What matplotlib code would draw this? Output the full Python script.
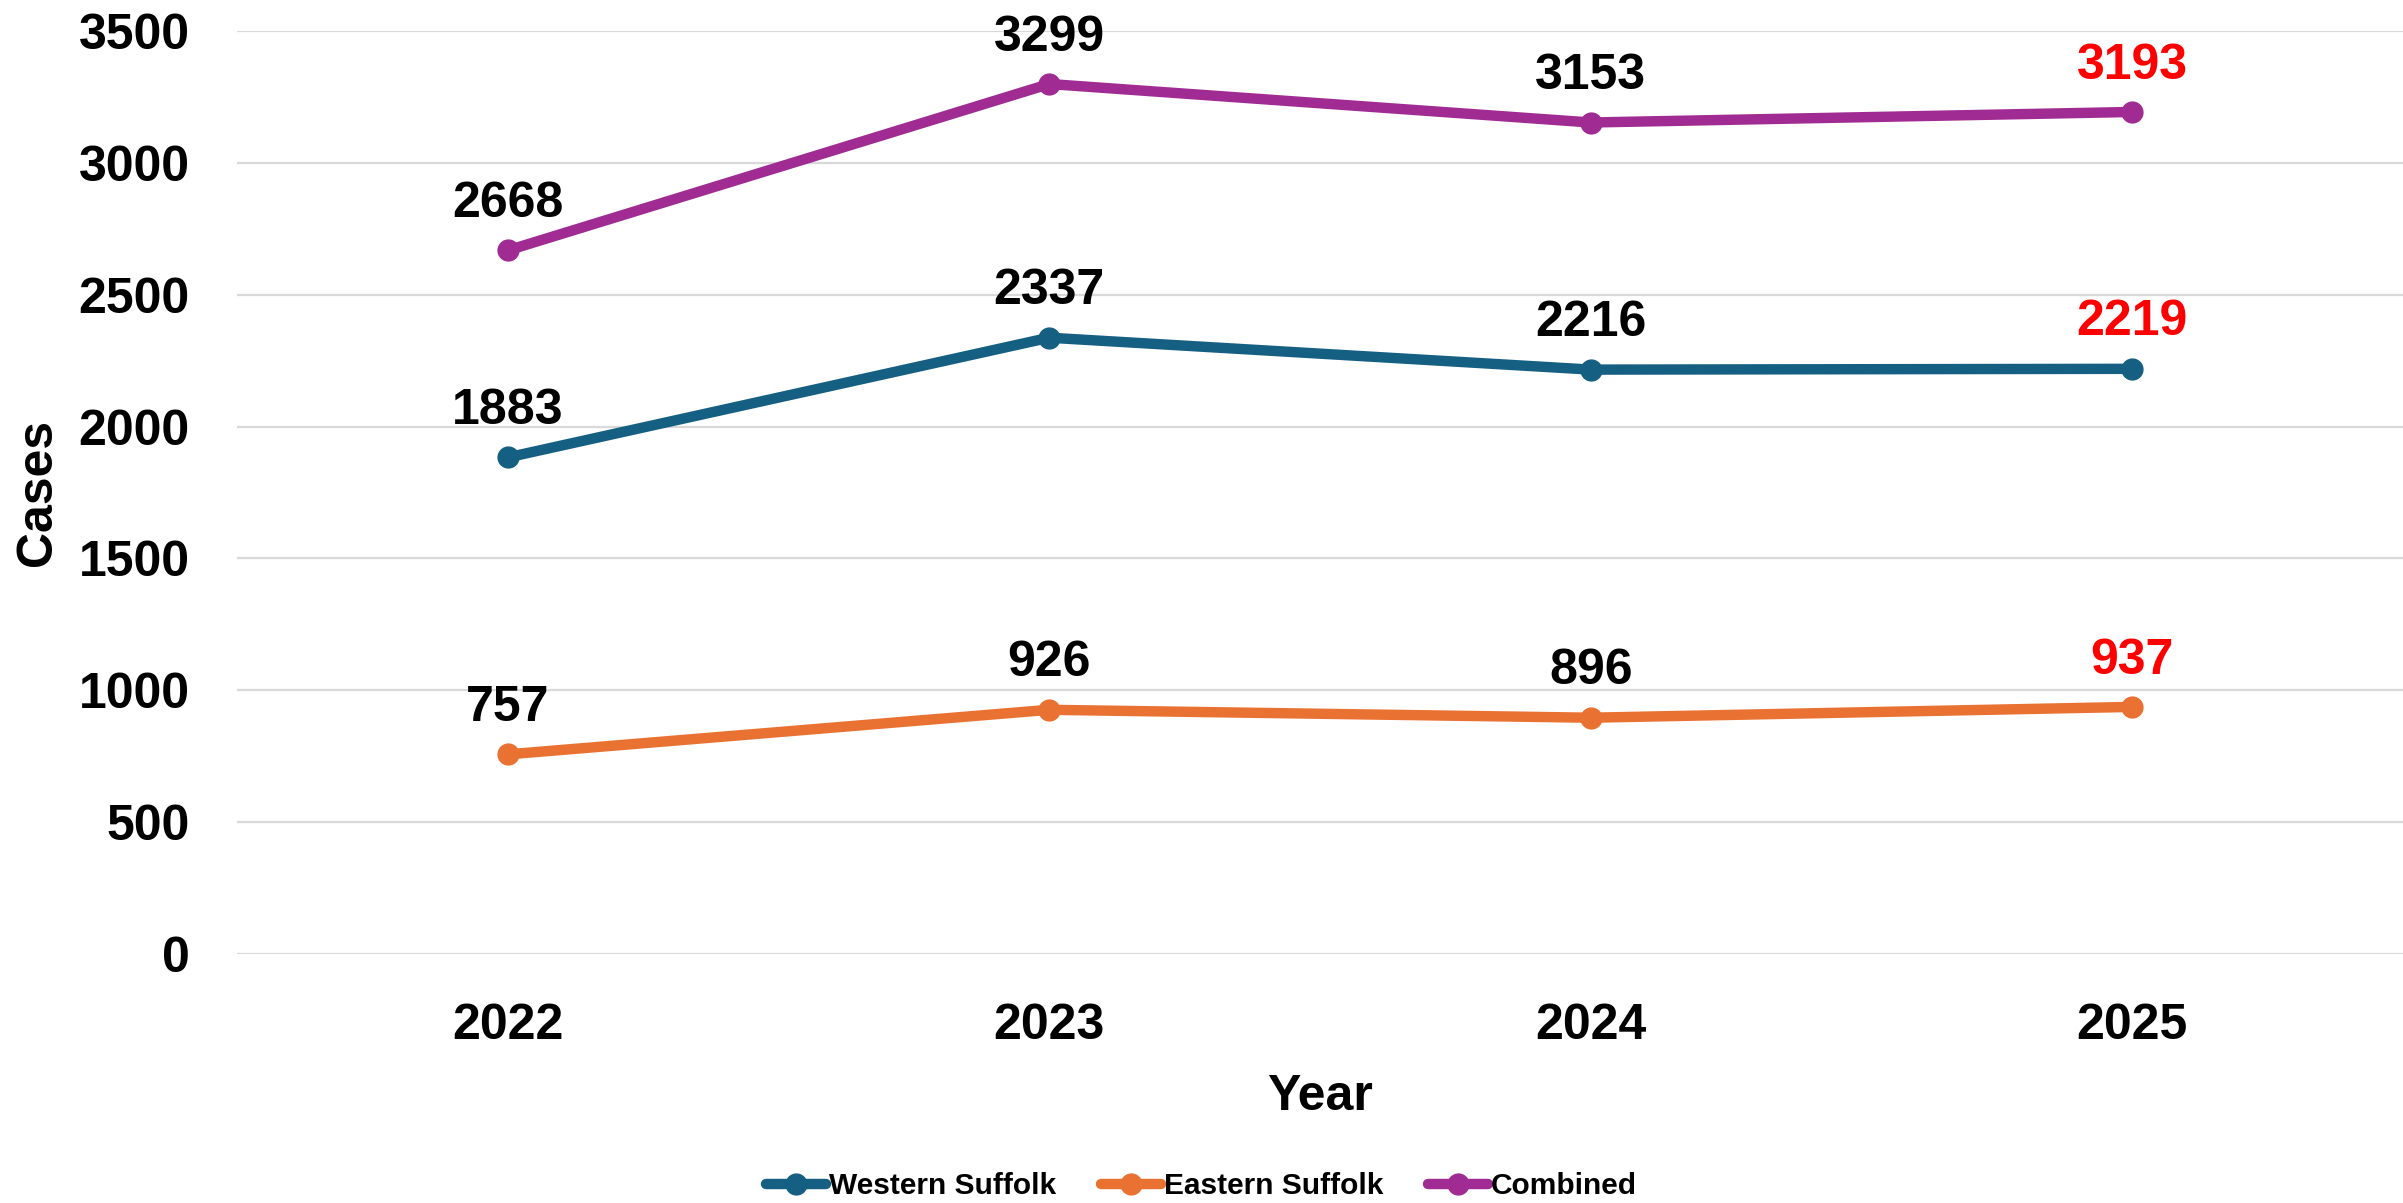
import matplotlib
matplotlib.use("Agg")
import matplotlib.pyplot as plt

years = ["2022", "2023", "2024", "2025"]
western = [1883, 2337, 2216, 2219]
eastern = [757, 926, 896, 937]
combined = [2668, 3299, 3153, 3193]

series_names = ["Western Suffolk", "Eastern Suffolk", "Combined"]
series_colors = ["#156082", "#E97132", "#A02B93"]

plt.rcParams['font.family'] = ['Liberation Sans', 'DejaVu Sans']
plt.rcParams['font.weight'] = 'bold'

fig = plt.figure(figsize=(24.03, 12.03), dpi=100)
ax = fig.add_axes([237 / 2403, 1 - 954 / 1203, 1 - 237 / 2403, (954 - 31) / 1203])

x = list(range(len(years)))
for vals, name, col in zip([western, eastern, combined], series_names, series_colors):
    ax.plot(x, vals, color=col, linewidth=7.5, marker='o', markersize=15,
            label=name, solid_capstyle='round', zorder=3)
    for i, v in enumerate(vals):
        # last year is highlighted in red
        tc = 'red' if i == len(vals) - 1 else 'black'
        ax.annotate(str(v), (i, v), xytext=(0, 24), textcoords='offset points',
                    ha='center', va='baseline', fontsize=36, fontweight='bold', color=tc)

ax.set_xlim(-0.5, len(years) - 0.5)
ax.set_ylim(0, 3500)
ax.set_yticks(range(0, 3501, 500))
ax.set_xticks(x)
ax.set_xticklabels(years)
ax.tick_params(axis='both', length=0, labelsize=36)
ax.tick_params(axis='y', pad=34)
ax.tick_params(axis='x', pad=35)
for lab in ax.get_xticklabels() + ax.get_yticklabels():
    lab.set_fontweight('bold')

ax.grid(axis='y', color='#D9D9D9', linewidth=1.6, zorder=0)
ax.set_axisbelow(True)
for s in ax.spines.values():
    s.set_visible(False)

ax.set_xlabel("Year", fontsize=36, fontweight='bold', labelpad=18)
fig.text(38 / 2403, 1 - 492 / 1203, "Cases", rotation=90, ha='center', va='center',
         fontsize=36, fontweight='bold')

fig.legend(loc='center', bbox_to_anchor=(0.5, 1 - 1186 / 1203), ncol=3,
           frameon=False, handlelength=2.0, handletextpad=0.1,
           columnspacing=1.5, prop={'weight': 'bold', 'size': 21.5})

fig.savefig("out.png", dpi=100)
